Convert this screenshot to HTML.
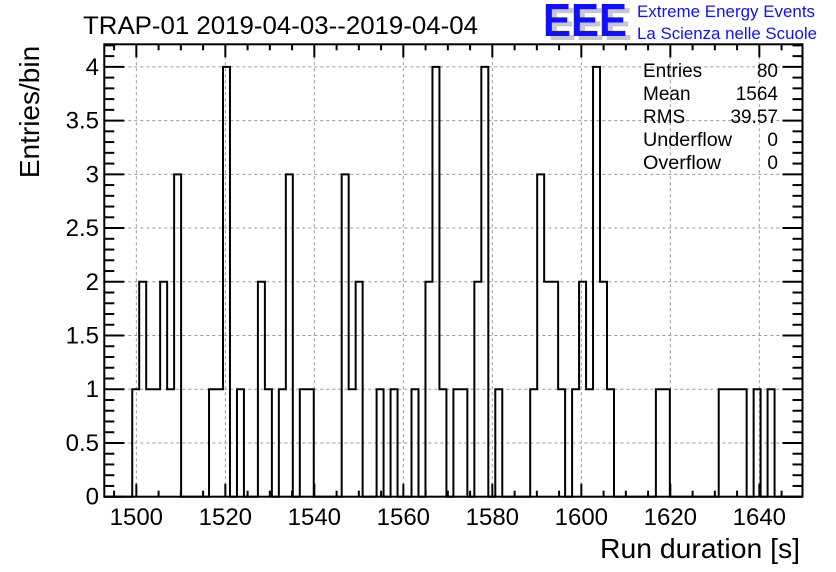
<!DOCTYPE html>
<html><head><meta charset="utf-8"><style>
body{margin:0;background:#fff;}
svg{display:block;font-family:"Liberation Sans",Arial,sans-serif;}
</style></head><body>
<svg id="c" width="836" height="572" viewBox="0 0 836 572">
<rect width="836" height="572" fill="#fff"/>
<g id="grid"></g>
<g id="hist"></g>
<g id="axes"></g>
<text x="83" y="34" font-size="25" textLength="395" lengthAdjust="spacingAndGlyphs">TRAP-01 2019-04-03--2019-04-04</text>
<text transform="translate(39,112) rotate(-90)" text-anchor="middle" font-size="28">Entries/bin</text>
<text x="800" y="558" text-anchor="end" font-size="28" textLength="200" lengthAdjust="spacingAndGlyphs">Run duration [s]</text>
<g>
<text x="548" y="40" font-size="46" font-weight="bold" fill="#c8c8c8" textLength="84" lengthAdjust="spacingAndGlyphs">EEE</text>
<text x="543" y="36" font-size="46" font-weight="bold" fill="#1010ff" textLength="84" lengthAdjust="spacingAndGlyphs">EEE</text>
<text x="637" y="17" font-size="17" fill="#1010ff" textLength="178" lengthAdjust="spacingAndGlyphs">Extreme Energy Events</text>
<text x="637" y="39" font-size="17" fill="#1010ff" textLength="180" lengthAdjust="spacingAndGlyphs">La Scienza nelle Scuole</text>
</g>
<g font-size="19">
<text x="643" y="77">Entries</text><text x="778" y="77" text-anchor="end">80</text>
<text x="643" y="100">Mean</text><text x="778" y="100" text-anchor="end">1564</text>
<text x="643" y="123">RMS</text><text x="778" y="123" text-anchor="end">39.57</text>
<text x="643" y="146" textLength="89" lengthAdjust="spacingAndGlyphs">Underflow</text><text x="778" y="146" text-anchor="end">0</text>
<text x="643" y="169" textLength="78" lengthAdjust="spacingAndGlyphs">Overflow</text><text x="778" y="169" text-anchor="end">0</text>
</g>
</svg>
<script>
const xMin = 1492.8, xMax = 1649.7;
const yMax = 4.21;
const counts = [0,0,0,0,1,2,1,1,2,1,3,0,0,0,0,1,1,4,0,1,
0,0,2,1,0,1,3,0,1,1,0,0,0,0,3,1,2,0,0,1,
0,1,0,0,1,0,2,4,1,0,1,1,0,2,4,0,1,0,0,0,
0,1,3,2,2,1,0,1,2,1,4,2,1,0,0,0,0,0,0,1,
1,0,0,0,0,0,0,0,1,1,1,1,0,1,0,1,0,0,0,0];
const xTicks = [1500,1520,1540,1560,1580,1600,1620,1640];
const yTicks = [0,0.5,1,1.5,2,2.5,3,3.5,4];
const yTickLabels = ["0","0.5","1","1.5","2","2.5","3","3.5","4"];

const L=104.3,R=802.5,T=44.3,B=496.7;
const NS="http://www.w3.org/2000/svg";
const X=v=>L+(v-xMin)/(xMax-xMin)*(R-L);
const Y=v=>B-v/yMax*(B-T);
function mk(tag,attrs,parent){const e=document.createElementNS(NS,tag);for(const k in attrs)e.setAttribute(k,attrs[k]);parent.appendChild(e);return e;}
const grid=document.getElementById('grid'),axes=document.getElementById('axes'),hist=document.getElementById('hist');
xTicks.forEach(v=>{const g=mk('line',{x1:X(v),x2:X(v),y1:T,y2:B,stroke:'#999','stroke-dasharray':'3,3','stroke-width':1},grid);

});
yTicks.forEach(v=>{const g=mk('line',{x1:L,x2:R,y1:Y(v),y2:Y(v),stroke:'#999','stroke-dasharray':'3,3','stroke-width':1},grid);

});
const n=counts.length,bw=(xMax-xMin)/n;
let d='M'+X(xMin)+','+Y(0);
for(let i=0;i<n;i++){const x0=X(xMin+i*bw),x1=X(xMin+(i+1)*bw);d+=' L'+x0+','+Y(counts[i])+' L'+x1+','+Y(counts[i]);}
d+=' L'+X(xMax)+','+Y(0);
const p=mk('path',{d:d,fill:'none',stroke:'#000','stroke-width':2},hist);


const fr=mk('rect',{x:L,y:T,width:R-L,height:B-T,fill:'none',stroke:'#000','stroke-width':2},axes);


for(let v=1495;v<=xMax;v+=5){const maj=(v%20===0);const len=maj?13:6;
mk('line',{x1:X(v),x2:X(v),y1:B,y2:B-len,stroke:'#000','stroke-width':2},axes);
mk('line',{x1:X(v),x2:X(v),y1:T,y2:T+len,stroke:'#000','stroke-width':2},axes);}
xTicks.forEach(v=>{const t=mk('text',{x:X(v),y:525,'text-anchor':'middle','font-size':24},axes);t.textContent=String(v);

});
for(let k=0;k<=42;k++){const v=k/10;if(v>yMax)break;const maj=(k%5===0);const len=maj?20:10;
mk('line',{x1:L,x2:L+len,y1:Y(v),y2:Y(v),stroke:'#000','stroke-width':2},axes);
mk('line',{x1:R,x2:R-len,y1:Y(v),y2:Y(v),stroke:'#000','stroke-width':2},axes);}
yTicks.forEach((v,i)=>{const t=mk('text',{x:99,y:Y(v)+8,'text-anchor':'end','font-size':24},axes);t.textContent=yTickLabels[i];

});
</script>
</body></html>
